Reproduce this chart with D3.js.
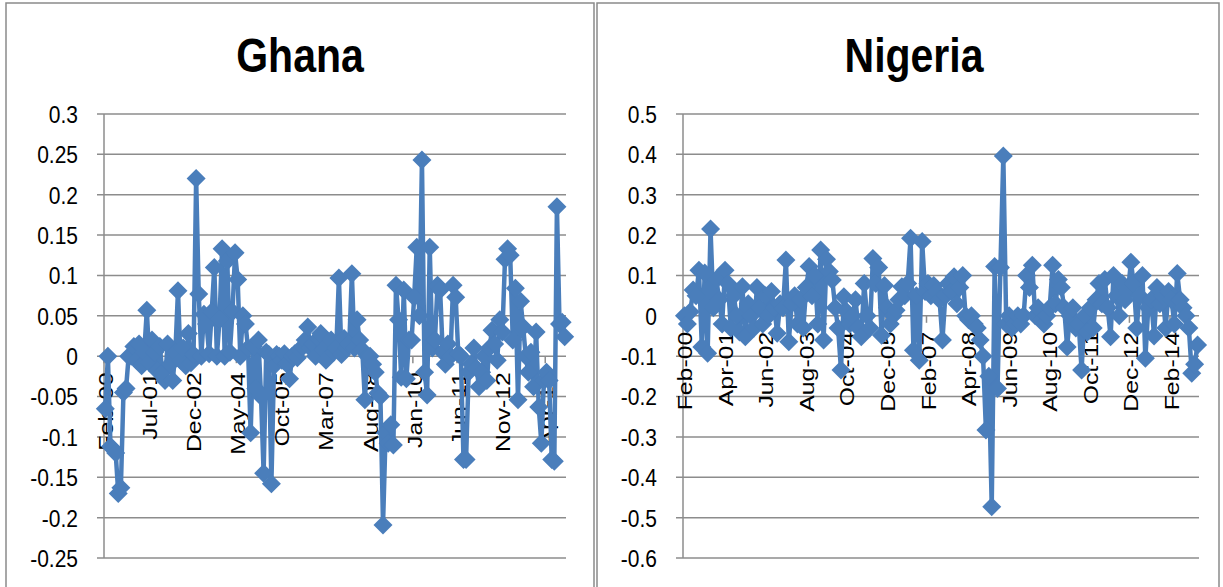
<!DOCTYPE html>
<html>
<head>
<meta charset="utf-8">
<script src="https://cdn.jsdelivr.net/npm/d3@7/dist/d3.min.js"></script>
<style>
  html, body { margin: 0; padding: 0; background: #ffffff; }
  svg { display: block; }
  text { font-family: "Liberation Sans", Arial, sans-serif; fill: #000; }
</style>
</head>
<body>
<svg id="chart" width="1223" height="587"></svg>
<script>
// Monthly series, Feb-2000 .. Nov-2014
const startMonth = new Date(2000, 1, 1);
const monthCount = 178;

const ghanaValues = [
  -0.065, 0.0, -0.112, -0.115, -0.12, -0.17, -0.163, -0.045, -0.04, 0.0,
  0.0, 0.012, -0.005, 0.015, -0.012, 0.005, 0.057, -0.008, 0.02, 0.005,
  -0.018, 0.012, -0.02, -0.03, 0.015, -0.01, -0.03, 0.005, 0.081, -0.005,
  0.01, -0.012, 0.028, -0.008, 0.002, 0.22, 0.077, 0.0, 0.052, 0.04,
  0.003, 0.055, 0.11, 0.0, 0.045, 0.133, 0.0, 0.118, 0.005, 0.055,
  0.128, 0.095, 0.0, 0.05, 0.04, 0.01, -0.095, 0.012, -0.04, 0.02,
  -0.05, -0.145, 0.005, 0.002, -0.158, -0.012, 0.002, 0.0, -0.005, 0.003,
  -0.01, -0.028, 0.0, 0.003, -0.002, 0.008, 0.012, 0.02, 0.036, 0.01,
  0.015, 0.0, 0.022, 0.028, 0.008, -0.005, 0.015, 0.02, 0.005, 0.01,
  0.097, 0.002, 0.022, 0.01, 0.015, 0.102, 0.01, 0.045, 0.02, 0.008,
  -0.054, 0.0, 0.0, -0.01, -0.02, -0.046, -0.05, -0.209, -0.095, -0.108,
  -0.085, -0.11, 0.088, 0.045, -0.026, 0.082, -0.028, 0.02, 0.02, 0.073,
  0.135, 0.05, 0.243, -0.02, -0.048, 0.135, 0.01, 0.02, 0.088, 0.082,
  0.005, -0.01, 0.015, 0.0, 0.088, 0.073, 0.003, 0.0, -0.128, -0.128,
  -0.02, -0.01, 0.01, -0.015, -0.038, -0.02, 0.0, -0.03, 0.01, 0.032,
  0.015, -0.005, 0.045, 0.03, 0.12, 0.133, 0.125, 0.02, 0.084, -0.054,
  0.068, 0.036, 0.0, -0.02, 0.005, -0.038, 0.03, -0.063, -0.108, -0.03,
  -0.02, -0.03, -0.128, -0.13, 0.185, 0.04, 0.042, 0.024
];

const nigeriaValues = [
  0.0, -0.02, 0.01, 0.064, 0.05, 0.113, -0.077, 0.106, -0.093, 0.215,
  0.02, 0.09, 0.04, -0.02, 0.113, 0.08, -0.03, 0.05, 0.0, -0.04,
  0.072, -0.052, 0.03, 0.0, -0.03, 0.07, 0.02, -0.02, 0.05, 0.0,
  0.06, 0.02, -0.043, 0.03, 0.02, 0.138, -0.064, 0.03, 0.05, -0.02,
  0.04, -0.03, 0.07, 0.122, 0.05, 0.1, -0.02, 0.163, -0.06, 0.14,
  0.11, 0.089, 0.02, -0.03, -0.134, 0.047, 0.01, -0.02, 0.0, 0.04,
  -0.03, -0.052, 0.08, 0.0, -0.03, 0.142, 0.08, 0.12, -0.048, 0.075,
  0.02, -0.02, 0.0, 0.014, 0.04, 0.072, 0.05, 0.08, 0.192, -0.085,
  0.05, -0.11, 0.184, 0.06, 0.08, 0.05, 0.075, 0.06, 0.04, -0.06,
  0.05, 0.08, 0.06, 0.097, 0.03, 0.07, 0.1, 0.0, -0.01, 0.0,
  -0.02, -0.03, -0.06, -0.1, -0.283, -0.15, -0.473, 0.122, -0.18, 0.12,
  0.396, -0.02, 0.0, -0.03, -0.019, 0.0, -0.02, 0.0, 0.1, 0.07,
  0.125, 0.0, 0.02, -0.01, -0.02, 0.0, 0.02, 0.125, 0.03, 0.09,
  0.07, 0.02, -0.077, 0.0, 0.02, -0.03, -0.02, -0.134, 0.0, -0.04,
  0.02, -0.03, 0.04, 0.08, 0.03, 0.09, 0.02, -0.052, 0.1, 0.05,
  0.0, 0.08, 0.04, 0.06, 0.133, 0.08, -0.03, 0.05, 0.1, -0.105,
  0.02, 0.04, -0.05, 0.07, 0.03, 0.05, -0.03, 0.06, 0.04, -0.02,
  0.105, 0.04, 0.02, 0.0, -0.03, -0.142, -0.12, -0.072
];

const ghanaYTicks = [0.3, 0.25, 0.2, 0.15, 0.1, 0.05, 0, -0.05, -0.1, -0.15, -0.2, -0.25];
const nigeriaYTicks = [0.5, 0.4, 0.3, 0.2, 0.1, 0, -0.1, -0.2, -0.3, -0.4, -0.5, -0.6];

const ghanaXTicks = ["Feb-00", "Jul-01", "Dec-02", "May-04", "Oct-05", "Mar-07",
  "Aug-08", "Jan-10", "Jun-11", "Nov-12", "Apr-14"];
const nigeriaXTicks = ["Feb-00", "Apr-01", "Jun-02", "Aug-03", "Oct-04", "Dec-05",
  "Feb-07", "Apr-08", "Jun-09", "Aug-10", "Oct-11", "Dec-12", "Feb-14"];

const fmtMonth = d3.timeFormat("%b-%y");
const categories = d3.range(monthCount).map(i => fmtMonth(d3.timeMonth.offset(startMonth, i)));

const svg = d3.select("#chart");
const lineColor = "#4a7ebb";
const gridColor = "#8c8c8c";
const textStretch = 1.18;

function drawPanel(cfg) {
  const g = svg.append("g");

  // chart frame
  g.append("rect")
    .attr("x", cfg.frame[0]).attr("y", cfg.frame[1])
    .attr("width", cfg.frame[2] - cfg.frame[0])
    .attr("height", cfg.frame[3] - cfg.frame[1])
    .attr("fill", "#fff").attr("stroke", "#8a8a8a").attr("stroke-width", 1.5);

  // title
  g.append("text")
    .attr("transform", `translate(${cfg.titleX},72) scale(1,${textStretch})`)
    .attr("text-anchor", "middle")
    .style("font-weight", "bold")
    .style("font-size", "41px")
    .text(cfg.title);

  const x = d3.scaleBand().domain(categories).range([cfg.left, cfg.right]);
  const y = d3.scaleLinear().domain(cfg.yDomain).range([558, 114]);
  const cx = c => x(c) + x.bandwidth() / 2;

  // horizontal gridlines with left tick stubs
  g.append("g").selectAll("line").data(cfg.yTicks).join("line")
    .attr("x1", cfg.left - 7).attr("x2", cfg.right)
    .attr("y1", d => y(d)).attr("y2", d => y(d))
    .attr("stroke", gridColor).attr("stroke-width", 1.5);

  // vertical value axis
  g.append("line")
    .attr("x1", cfg.left).attr("x2", cfg.left)
    .attr("y1", y(cfg.yDomain[1])).attr("y2", y(cfg.yDomain[0]))
    .attr("stroke", gridColor).attr("stroke-width", 1.5);

  // value labels
  g.append("g").selectAll("text").data(cfg.yTicks).join("text")
    .attr("transform", d => `translate(${cfg.labelRight},${y(d)}) scale(1,${textStretch})`)
    .attr("text-anchor", "end")
    .attr("dy", "0.36em")
    .style("font-size", "21px")
    .text(d => String(d));

  // category tick marks below the zero line
  const tickIdx = d3.range(0, monthCount, cfg.step);
  g.append("g").selectAll("line").data(tickIdx).join("line")
    .attr("x1", i => x(categories[i])).attr("x2", i => x(categories[i]))
    .attr("y1", y(0)).attr("y2", y(0) + 7)
    .attr("stroke", gridColor).attr("stroke-width", 1.5);

  // category labels, rotated
  g.append("g").selectAll("text").data(cfg.xTicks).join("text")
    .attr("transform", d => `translate(${cx(d)},${y(0) + 16}) rotate(-90) scale(${textStretch},1)`)
    .attr("text-anchor", "end")
    .attr("dy", "0.36em")
    .style("font-size", "21px")
    .text(d => d);

  // series line
  const line = d3.line()
    .x((d, i) => cx(categories[i]))
    .y(d => y(d));
  g.append("path")
    .datum(cfg.values)
    .attr("d", line)
    .attr("fill", "none")
    .attr("stroke", lineColor)
    .attr("stroke-width", 4.5)
    .attr("stroke-linejoin", "round");

  // diamond markers
  const r = 9.5;
  g.append("g").selectAll("path").data(cfg.values).join("path")
    .attr("transform", (d, i) => `translate(${cx(categories[i])},${y(d)})`)
    .attr("d", `M0,${-r}L${r},0L0,${r}L${-r},0Z`)
    .attr("fill", lineColor);
}

drawPanel({
  title: "Ghana", titleX: 300,
  frame: [6, 3, 594, 592],
  left: 104, right: 566, labelRight: 78,
  yDomain: [-0.25, 0.3], yTicks: ghanaYTicks,
  xTicks: ghanaXTicks, step: 17,
  values: ghanaValues
});

drawPanel({
  title: "Nigeria", titleX: 914,
  frame: [597, 3, 1219, 592],
  left: 683, right: 1199, labelRight: 657,
  yDomain: [-0.6, 0.5], yTicks: nigeriaYTicks,
  xTicks: nigeriaXTicks, step: 14,
  values: nigeriaValues
});
</script>
</body>
</html>
